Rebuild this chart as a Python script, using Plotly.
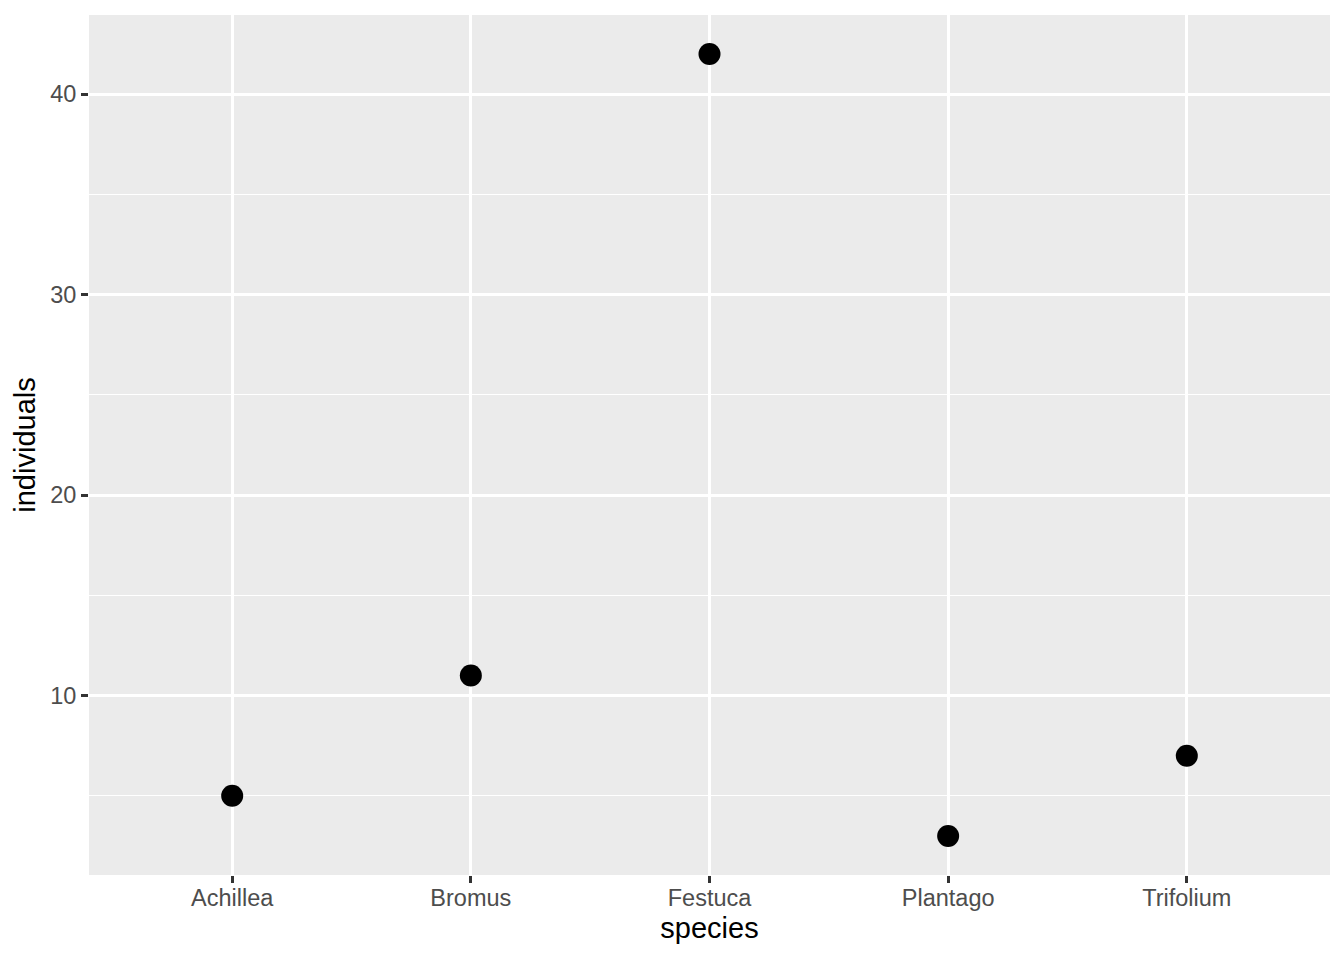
import plotly.graph_objects as go

species = ["Achillea", "Bromus", "Festuca", "Plantago", "Trifolium"]
individuals = [5, 11, 42, 3, 7]
y_ticks = [10, 20, 30, 40]
y_minor = [5, 15, 25, 35]

fig = go.Figure(go.Scatter(
    x=species, y=individuals, mode="markers",
    marker=dict(color="black", size=22),
    showlegend=False,
))

fig.update_layout(
    width=1344, height=960,
    margin=dict(l=89, r=14, t=15, b=85),
    paper_bgcolor="white", plot_bgcolor="#ebebeb",
    font=dict(family="Liberation Sans, Arial, sans-serif", color="#4d4d4d"),
)
fig.update_xaxes(
    type="category", range=[-0.6, 4.6],
    showgrid=True, gridcolor="white", gridwidth=2.8,
    ticks="outside", ticklen=7, tickwidth=2.8, tickcolor="#333333",
    ticklabelstandoff=-5,
    tickfont=dict(size=23.5, color="#4d4d4d"),
    title=dict(text="species", font=dict(size=29, color="black"), standoff=7),
    zeroline=False, showline=False,
)
fig.update_yaxes(
    range=[1.05, 43.95], tickvals=y_ticks,
    showgrid=True, gridcolor="white", gridwidth=2.8,
    minor=dict(tickvals=y_minor, showgrid=True, gridcolor="white", gridwidth=1.4, ticks=""),
    ticks="outside", ticklen=7, tickwidth=2.8, tickcolor="#333333",
    tickfont=dict(size=23.5, color="#4d4d4d"),
    title=dict(text="individuals", font=dict(size=29, color="black"), standoff=6),
    zeroline=False, showline=False,
)

fig.write_html("out.html")
